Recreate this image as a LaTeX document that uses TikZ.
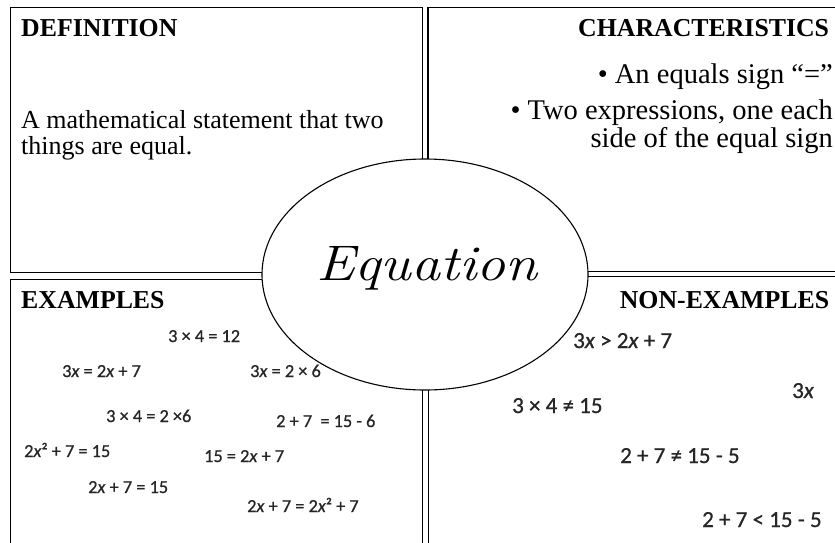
\documentclass[tikz,border=0pt]{standalone}
\usepackage{fontspec}
\newfontfamily\tnr{Liberation Serif}
\newfontfamily\calfont[FakeBold=0.8]{Carlito}
\usetikzlibrary{shapes.geometric}
\definecolor{exink}{HTML}{262626}
\begin{document}
\begin{tikzpicture}[x=1pt,y=-1pt,
  panel/.style={draw, line width=1.3pt, anchor=north west, inner sep=0pt},
  head/.style={inner sep=0pt, font=\tnr\bfseries\fontsize{25.8}{28}\selectfont},
  body/.style={inner sep=0pt, font=\tnr\fontsize{26}{28}\selectfont},
  cbody/.style={inner sep=0pt, anchor=base east, font=\tnr\fontsize{28.5}{30}\selectfont},
  ex/.style={inner sep=0pt, anchor=base west, text=exink, font=\calfont\fontsize{18.3}{20}\selectfont},
  nex/.style={inner sep=0pt, anchor=base west, text=exink, font=\calfont\fontsize{23}{25}\selectfont},
  centre/.style={draw, fill=white, ellipse, line width=1.1pt, inner sep=0pt,
    minimum width=326pt, minimum height=231pt}]
\useasboundingbox (0,0) rectangle (835,542);
\clip (0,0) rectangle (835,542);
% panels
\node[panel, minimum width=412pt, minimum height=265pt] (defbox) at (9.5,6.5) {};
\node[panel, minimum width=420pt, minimum height=264pt] (charbox) at (427.3,6.5) {};
\node[panel, minimum width=411.7pt, minimum height=280pt] (exbox) at (10,278.5) {};
\node[panel, minimum width=420pt, minimum height=280pt] (nexbox) at (427.7,276) {};
% centre
\node[centre] (eq) at (425,274.5) {};
\node[inner sep=0pt, anchor=base, font=\itshape\fontsize{50}{50}\selectfont, xscale=1.16] (eqtext) at (427,280) {Equation};
% definition
\node[head, anchor=base west] (defh) at (21,36.7) {DEFINITION};
\node[body, anchor=base west] (def1) at (21,128.3) {A mathematical statement that two};
\node[body, anchor=base west] (def2) at (21,154.5) {things are equal.};
% characteristics
\node[head, anchor=base east] (charh) at (829.3,36.7) {CHARACTERISTICS};
\node[cbody] (char1) at (833,83) {\textbullet{} An equals sign “=”};
\node[cbody] (char2) at (833,119) {\textbullet{} Two expressions, one each};
\node[cbody] (char3) at (833,147) {side of the equal sign};
% examples
\node[head, anchor=base west] (exh) at (21,308) {EXAMPLES};
\node[ex] (e1) at (168,342) {3 × 4 = 12};
\node[ex] (e2) at (62,377) {3\textit{x} = 2\textit{x} + 7};
\node[ex] (e3) at (250,377) {3\textit{x} = 2 × 6};
\node[ex] (e4) at (106,422) {3 × 4 = 2 ×6};
\node[ex] (e5) at (276,427) {2 + 7\ \ = 15 - 6};
\node[ex] (e6) at (24,457) {2\textit{x}² + 7 = 15};
\node[ex] (e7) at (204,462) {15 = 2\textit{x} + 7};
\node[ex] (e8) at (88,493) {2\textit{x} + 7 = 15};
\node[ex] (e9) at (247,512) {2\textit{x} + 7 = 2\textit{x}² + 7};
% non-examples
\node[head, anchor=base east] (nexh) at (829.3,308) {NON-EXAMPLES};
\node[nex] (n1) at (573,348) {3\textit{x} > 2\textit{x} + 7};
\node[nex] (n2) at (792,398) {3\textit{x}};
\node[nex] (n3) at (512,413) {3 × 4 ≠ 15};
\node[nex] (n4) at (620,463) {2 + 7 ≠ 15 - 5};
\node[nex] (n5) at (702,527) {2 + 7 < 15 - 5};
\end{tikzpicture}
\end{document}
